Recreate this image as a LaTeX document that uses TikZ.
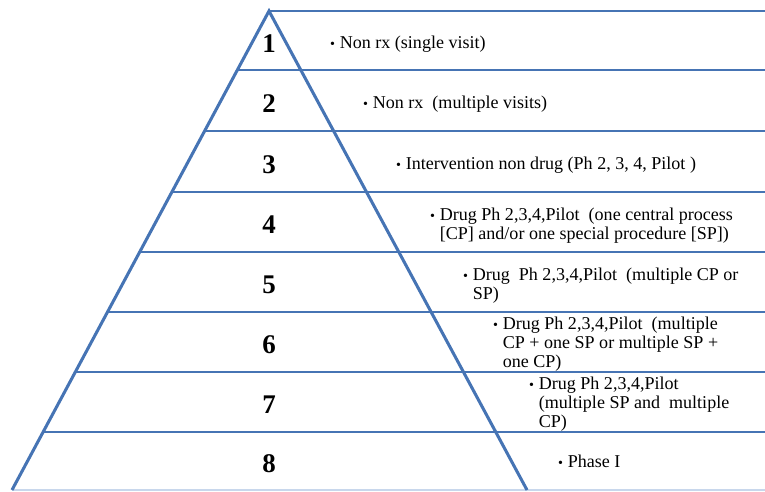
\documentclass[tikz,border=0pt]{standalone}
\usepackage{fontspec}
\setmainfont{Liberation Serif}
\usetikzlibrary{calc}
\definecolor{pyrblue}{RGB}{70, 116, 180}
\definecolor{pyrlight}{RGB}{200, 215, 236}
\newcommand{\tieritem}[1]{{\fontsize{12}{12}\selectfont\textbullet}\hspace{4pt}\begin{tabular}[t]{@{}l@{}}#1\end{tabular}}

\begin{document}
\begin{tikzpicture}[
    x=0.03cm, y=-0.03cm,
    pyrline/.style={
        draw=pyrblue,
        line width=2.6pt,
        line join=miter
    },
    rowline/.style={
        draw=pyrblue,
        line width=2.5pt
    },
    tiernum/.style={
        inner sep=0pt,
        font=\fontsize{23}{23}\selectfont\bfseries
    },
    tiertext/.style={
        anchor=west,
        inner sep=0pt,
        align=left,
        font=\fontsize{15.4}{16.2}\selectfont
    }
]

% Canvas
\useasboundingbox (0,0) rectangle (765,491);

% Pyramid corners
\coordinate (apex) at (269,11);
\coordinate (baseL) at (12,490);
\coordinate (baseR) at (527,490);

% Bottom line
\draw[pyrlight, line width=1.5pt] (baseL) -- (765,490);

% Row lines
\draw[rowline] (apex) -- (765,11);
\draw[rowline] (237.3,70) -- (765,70);
\draw[rowline] (204.6,131) -- (765,131);
\draw[rowline] (171.9,192) -- (765,192);
\draw[rowline] (139.7,252) -- (765,252);
\draw[rowline] (107.5,312) -- (765,312);
\draw[rowline] (75.3,372) -- (765,372);
\draw[rowline] (43.1,432) -- (765,432);

% Pyramid outline
\draw[pyrline] (baseL) -- (apex) -- (baseR);

% Tier numbers
\node[tiernum] (num1) at (269,44) {1};
\node[tiernum] (num2) at (269,104) {2};
\node[tiernum] (num3) at (269,165) {3};
\node[tiernum] (num4) at (269,225) {4};
\node[tiernum] (num5) at (269,285) {5};
\node[tiernum] (num6) at (269,345) {6};
\node[tiernum] (num7) at (269,405) {7};
\node[tiernum] (num8) at (269,464) {8};

% Tier descriptions
\node[tiertext] (txt1) at (330,45) {\tieritem{Non rx (single visit)}};
\node[tiertext] (txt2) at (363,105) {\tieritem{Non rx\ \ (multiple visits)}};
\node[tiertext] (txt3) at (396,166) {\tieritem{Intervention non drug (Ph 2, 3, 4, Pilot )}};
\node[tiertext] (txt4) at (430,226) {\tieritem{Drug Ph 2,3,4,Pilot\ \ (one central process\\ {[CP]} and/or one special procedure [SP])}};
\node[tiertext] (txt5) at (463,286) {\tieritem{Drug\ \ Ph 2,3,4,Pilot\ \ (multiple CP or\\ SP)}};
\node[tiertext] (txt6) at (493,345) {\tieritem{Drug Ph 2,3,4,Pilot\ \ (multiple\\ CP + one SP or multiple SP +\\ one CP)}};
\node[tiertext] (txt7) at (529,405) {\tieritem{Drug Ph 2,3,4,Pilot\\ (multiple SP and\ \ multiple\\ CP)}};
\node[tiertext] (txt8) at (558,464) {\tieritem{Phase I}};

\end{tikzpicture}
\end{document}
